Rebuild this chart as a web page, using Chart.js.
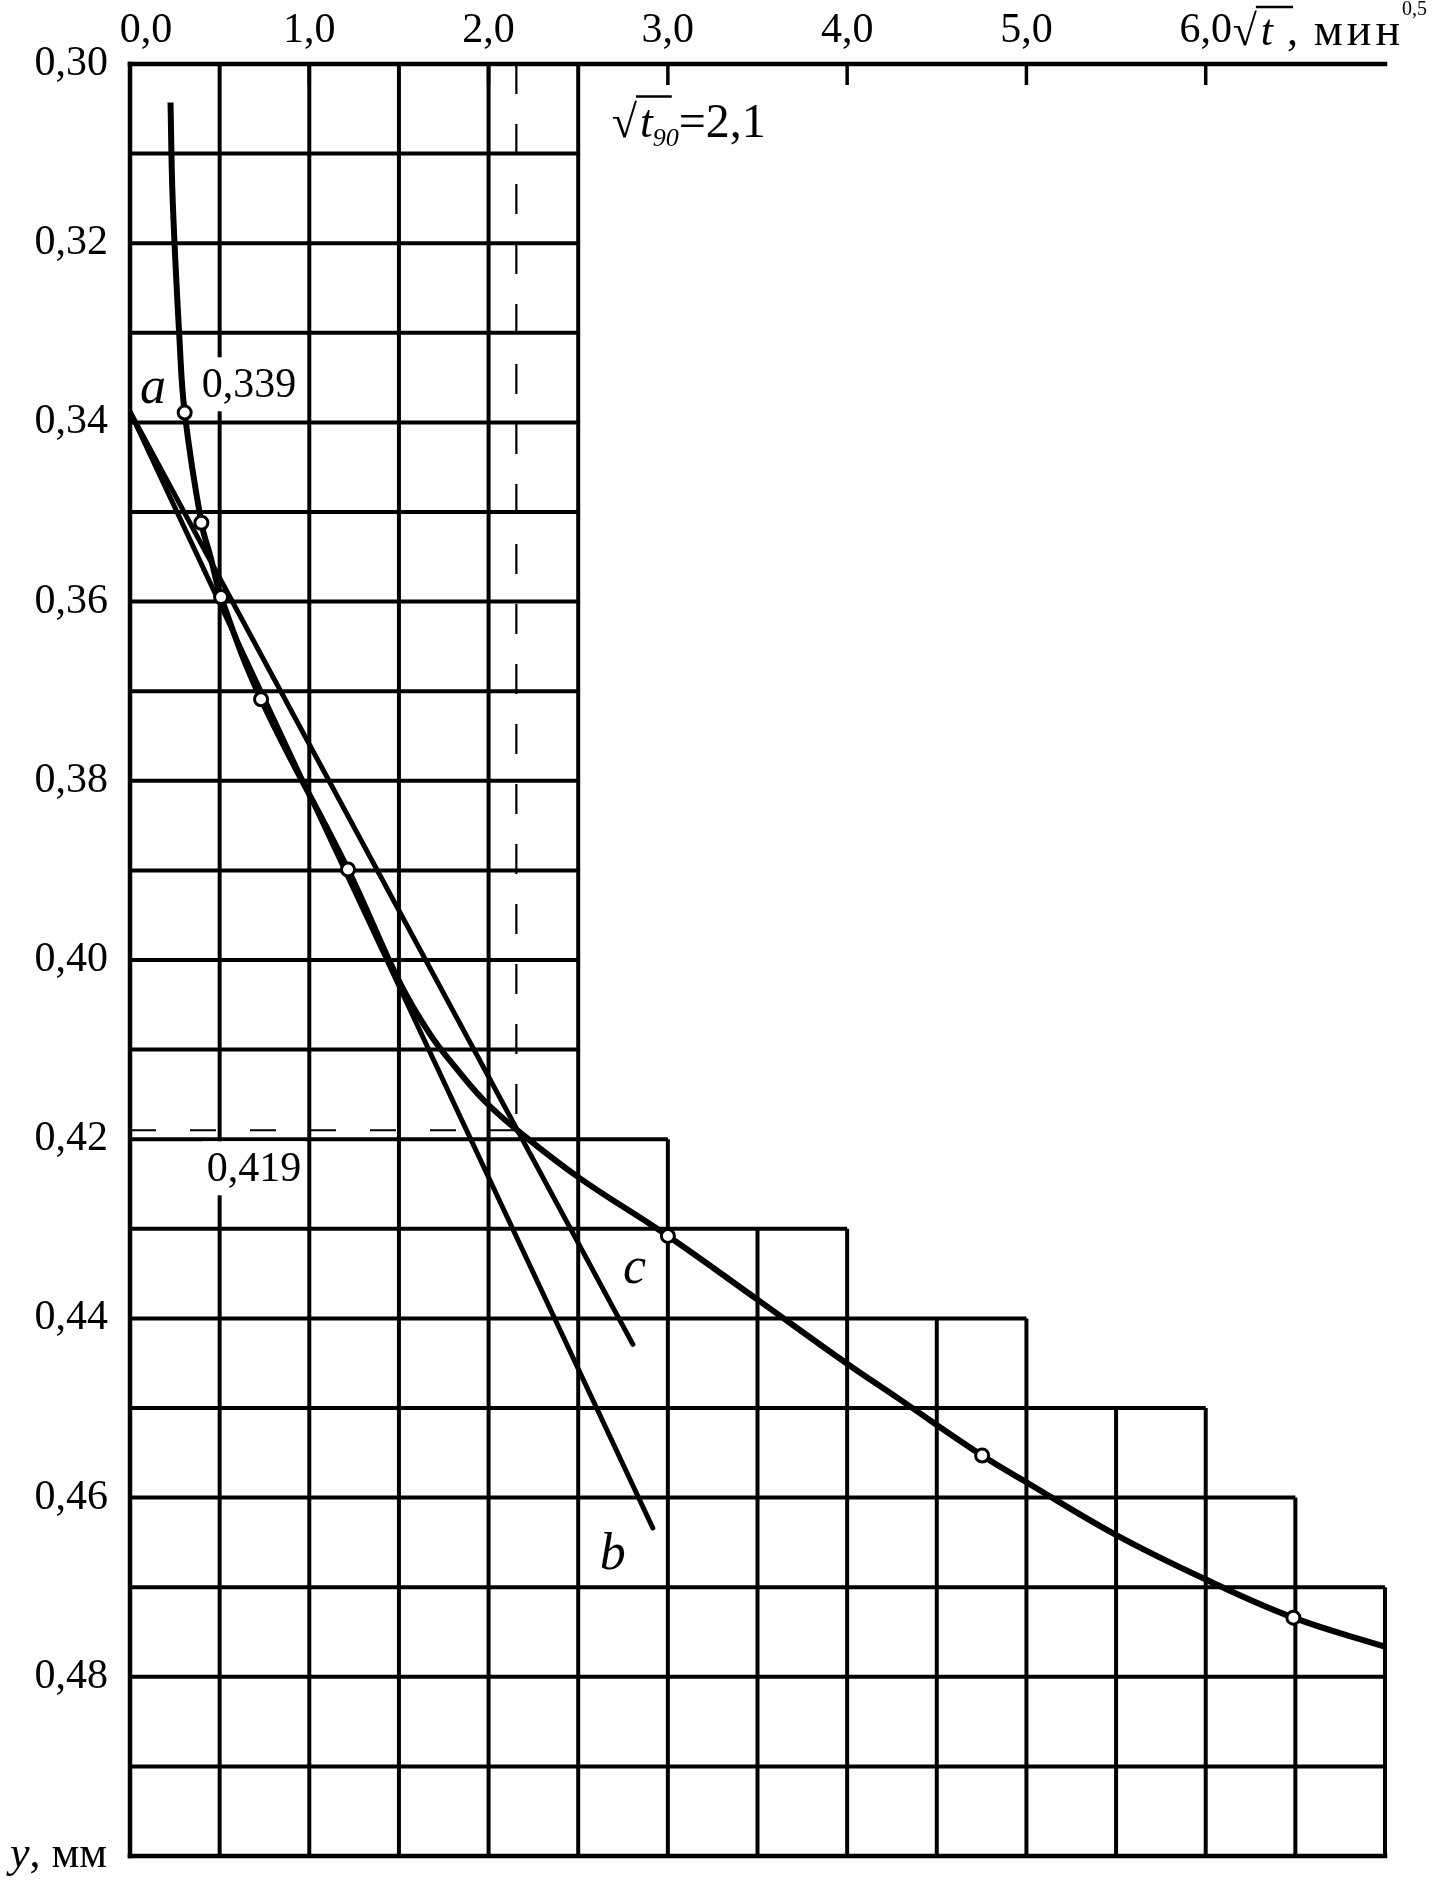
<!DOCTYPE html>
<html>
<head>
<meta charset="utf-8">
<script src="https://cdn.jsdelivr.net/npm/chart.js@4.4.0/dist/chart.umd.min.js"></script>
<style>
  html, body { margin: 0; padding: 0; background: #fff; }
  #wrap { width: 1442px; height: 1887px; }
</style>
</head>
<body>
<div id="wrap"><canvas id="chart" width="1442" height="1887"></canvas></div>
<script>
// axis ticks
const xTickValues = [0, 1, 2, 3, 4, 5, 6];
const yTickValues = [0.30, 0.32, 0.34, 0.36, 0.38, 0.40, 0.42, 0.44, 0.46, 0.48];

// consolidation curve
const curveX = [0.226, 0.238, 0.276, 0.305, 0.398, 0.448, 0.508, 0.731, 1.216, 1.507, 1.674, 1.804, 1.971, 2.160, 2.498, 3.0, 3.5, 3.996, 4.283, 4.753, 4.993, 5.494, 5.986, 6.489, 6.994];
const curveY = [0.3043, 0.3151, 0.3307, 0.3389, 0.3512, 0.3549, 0.3595, 0.3709, 0.3899, 0.4026, 0.4083, 0.4117, 0.4156, 0.4190, 0.4242, 0.4308, 0.4379, 0.4450, 0.4489, 0.4553, 0.4582, 0.4641, 0.4690, 0.4734, 0.4766];

// measured points (open circles)
const markX = [0.305, 0.398, 0.508, 0.731, 1.216, 3.0, 4.753, 6.489];
const markY = [0.3389, 0.3512, 0.3595, 0.3709, 0.3899, 0.4308, 0.4553, 0.4734];

// straight lines a-b and a-c
const lineBX = [0, 2.916];
const lineBY = [0.3388, 0.4634];
const lineCX = [0, 2.805];
const lineCY = [0.3388, 0.4429];

// t90 construction
const aValue = 0.339;
const t90 = 2.155;
const t90Label = 2.1;
const y90 = 0.419;

// stepped grid outline: up to gridStepX[i] the grid starts at gridStepY[i]
const gridStepX = [2.5, 3.0, 4.0, 5.0, 6.0, 6.5, 7.0];
const gridStepY = [0.30, 0.42, 0.43, 0.44, 0.45, 0.46, 0.47];

const FONT = "'Liberation Serif', 'Times New Roman', serif";
const fmt = (v, d) => v.toFixed(d).replace('.', ',');
const toPts = (xs, ys) => xs.map((v, i) => ({ x: v, y: ys[i] }));

const gridPlugin = {
  id: 'stepGrid',
  beforeDatasetsDraw(chart) {
    const { ctx, scales: { x, y } } = chart;
    const X = v => x.getPixelForValue(v), Y = v => y.getPixelForValue(v);
    const topAt = v => {
      for (let i = 0; i < gridStepX.length; i++) if (v <= gridStepX[i] + 1e-9) return gridStepY[i];
      return gridStepY[gridStepY.length - 1];
    };
    const endAt = v => {
      let e = 0;
      for (let i = 0; i < gridStepY.length; i++) if (gridStepY[i] <= v + 1e-9) e = gridStepX[i];
      return e;
    };
    const seg = (x1, y1, x2, y2) => { ctx.beginPath(); ctx.moveTo(x1, y1); ctx.lineTo(x2, y2); ctx.stroke(); };
    ctx.save();
    ctx.strokeStyle = '#000';
    ctx.lineWidth = 4;
    for (let k = 1; k <= 14; k++) {
      const v = k * 0.5;
      seg(X(v), Y(topAt(v)), X(v), Y(0.50));
    }
    for (let k = 1; k <= 19; k++) {
      const v = 0.30 + k * 0.01;
      seg(X(0), Y(v), X(endAt(v)), Y(v));
    }
    // frame
    ctx.lineWidth = 4.5;
    ctx.lineCap = 'square';
    seg(X(0), Y(0.30), X(7), Y(0.30));
    seg(X(0), Y(0.30), X(0), Y(0.50));
    seg(X(0), Y(0.50), X(7), Y(0.50));
    ctx.lineCap = 'butt';
    // inner tick marks on the top axis
    ctx.lineWidth = 3.5;
    xTickValues.forEach(v => { if (v > 0) seg(X(v), Y(0.30), X(v), Y(0.30) + 21); });
    ctx.restore();
  }
};

const textPlugin = {
  id: 'texts',
  afterDatasetsDraw(chart) {
    const { ctx, scales: { x, y } } = chart;
    const X = v => x.getPixelForValue(v), Y = v => y.getPixelForValue(v);
    ctx.save();
    ctx.fillStyle = '#000';
    ctx.strokeStyle = '#000';

    // first x tick label sits a little right of its tick
    ctx.font = '42px ' + FONT;
    ctx.textAlign = 'center';
    ctx.textBaseline = 'middle';
    ctx.fillText(fmt(xTickValues[0], 1), X(0) + 16, Y(0.30) - 8 - 25);

    ctx.textBaseline = 'alphabetic';
    ctx.textAlign = 'left';

    const boxed = (txt, xv, yv) => {
      ctx.font = '42px ' + FONT;
      const w = ctx.measureText(txt).width;
      ctx.fillStyle = '#fff';
      ctx.fillRect(X(xv) - 4, Y(yv) - 40, w + 8, 54);
      ctx.fillStyle = '#000';
      ctx.fillText(txt, X(xv), Y(yv));
    };
    boxed(fmt(aValue, 3), 0.40, 0.3372);
    boxed(fmt(y90, 3), 0.428, 0.4247);

    ctx.font = 'italic 52px ' + FONT;
    ctx.fillText('a', X(0.056), Y(0.3378));
    ctx.fillText('c', X(2.75), Y(0.4360));
    ctx.fillText('b', X(2.62), Y(0.4680));

    // sqrt(t90) = 2,1
    let bx = X(2.687), by = Y(0.3081);
    ctx.font = '46px ' + FONT;
    ctx.fillText('√', bx, by);
    bx += ctx.measureText('√').width;
    ctx.font = 'italic 46px ' + FONT;
    const tw = ctx.measureText('t').width;
    ctx.fillText('t', bx + 3, by);
    ctx.lineWidth = 2.5;
    ctx.beginPath(); ctx.moveTo(bx - 1, by - 40); ctx.lineTo(bx + tw + 22, by - 40); ctx.stroke();
    bx += tw + 3;
    ctx.font = 'italic 26px ' + FONT;
    ctx.fillText('90', bx, by + 9);
    bx += ctx.measureText('90').width;
    ctx.font = '48px ' + FONT;
    ctx.fillText('=' + fmt(t90Label, 1), bx, by);

    // axis title: sqrt(t), мин^0,5
    let ax = X(6) + 27, ay = 45;
    ctx.font = '44px ' + FONT;
    ctx.fillText('√', ax, ay);
    ax += ctx.measureText('√').width;
    ctx.font = 'italic 44px ' + FONT;
    const tw2 = ctx.measureText('t').width;
    ctx.fillText('t', ax + 4, ay);
    ctx.lineWidth = 2.5;
    ctx.beginPath(); ctx.moveTo(ax - 1, ay - 38); ctx.lineTo(ax + tw2 + 24, ay - 38); ctx.stroke();
    ctx.font = '44px ' + FONT;
    ctx.fillText(',', ax + tw2 + 18, ay);
    ax = X(6) + 108;
    ctx.font = '46px ' + FONT;
    for (const ch of 'мин') {
      ctx.fillText(ch, ax, ay);
      ax += ctx.measureText(ch).width + 4;
    }
    ctx.font = '20px ' + FONT;
    ctx.fillText('0,5', ax - 2, ay - 30);

    // y axis title
    const lx = 10, ly = Y(0.50) + 11;
    ctx.font = 'italic 44px ' + FONT;
    ctx.fillText('y', lx, ly);
    const yw = ctx.measureText('y').width;
    ctx.font = '44px ' + FONT;
    ctx.fillText(', мм', lx + yw, ly);
    ctx.restore();
  }
};

new Chart(document.getElementById('chart'), {
  type: 'scatter',
  data: {
    datasets: [
      {
        data: toPts(markX, markY),
        showLine: false,
        pointRadius: 6.5,
        pointBorderWidth: 3,
        pointBackgroundColor: '#fff',
        pointBorderColor: '#000'
      },
      {
        data: toPts(curveX, curveY),
        showLine: true,
        borderColor: '#000',
        borderWidth: 6,
        pointRadius: 0,
        tension: 0.4
      },
      {
        data: toPts(lineBX, lineBY),
        showLine: true,
        borderColor: '#000',
        borderWidth: 5,
        borderCapStyle: 'round',
        pointRadius: 0
      },
      {
        data: toPts(lineCX, lineCY),
        showLine: true,
        borderColor: '#000',
        borderWidth: 5,
        borderCapStyle: 'round',
        pointRadius: 0
      },
      {
        data: [{ x: t90, y: 0.30 }, { x: t90, y: y90 }],
        showLine: true,
        borderColor: '#000',
        borderWidth: 2.2,
        borderDash: [30, 30],
        pointRadius: 0
      },
      {
        data: [{ x: 0, y: y90 }, { x: t90, y: y90 }],
        showLine: true,
        borderColor: '#000',
        borderWidth: 2.2,
        borderDash: [26, 34],
        pointRadius: 0
      }
    ]
  },
  options: {
    responsive: false,
    animation: false,
    devicePixelRatio: 1,
    layout: { padding: { left: 0, top: 0, right: 57, bottom: 31 } },
    plugins: { legend: { display: false }, tooltip: { enabled: false } },
    scales: {
      x: {
        type: 'linear',
        position: 'top',
        min: 0,
        max: 7,
        afterBuildTicks: s => { s.ticks = xTickValues.map(v => ({ value: v })); },
        afterFit: s => { s.height = 64; s.paddingLeft = 0; s.paddingRight = 0; },
        grid: { display: false, drawTicks: false },
        border: { display: false },
        ticks: {
          padding: 8,
          color: '#000',
          maxRotation: 0,
          font: { family: FONT, size: 42 },
          callback: v => (v === xTickValues[0] ? '' : fmt(v, 1))
        }
      },
      y: {
        type: 'linear',
        reverse: true,
        min: 0.30,
        max: 0.50,
        afterBuildTicks: s => { s.ticks = yTickValues.map(v => ({ value: v })); },
        afterFit: s => { s.width = 130; s.paddingTop = 0; s.paddingBottom = 0; },
        grid: { display: false, drawTicks: false },
        border: { display: false },
        ticks: {
          padding: 22,
          color: '#000',
          font: { family: FONT, size: 42 },
          callback: v => fmt(v, 2)
        }
      }
    }
  },
  plugins: [gridPlugin, textPlugin]
});
</script>
</body>
</html>
